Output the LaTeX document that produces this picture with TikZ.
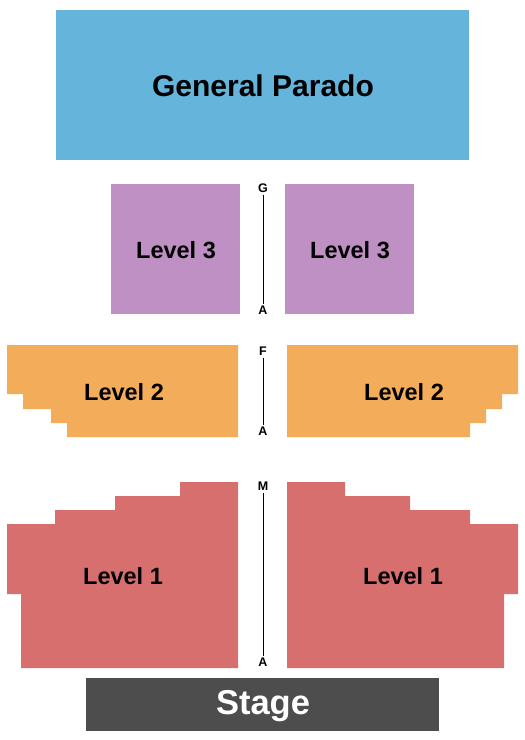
\documentclass[tikz,border=0pt]{standalone}
\usepackage{fontspec}
\setmainfont{Liberation Sans}
\definecolor{parado}{HTML}{64B4DC}
\definecolor{lvlthree}{HTML}{BF90C3}
\definecolor{lvltwo}{HTML}{F3AD5A}
\definecolor{lvlone}{HTML}{D76F6E}
\definecolor{stagec}{HTML}{4D4D4D}
\tikzset{
  seclabel/.style={font=\bfseries\fontsize{23.5}{27}\selectfont, text=black},
  rowlabel/.style={font=\bfseries\fontsize{12.5}{14}\selectfont, text=black, inner sep=2pt},
  aisle/.style={draw=black, line width=0.9pt}
}
\begin{document}
\begin{tikzpicture}[x=1pt,y=-1pt]
\useasboundingbox (0,0) rectangle (525,740);
% General Parado
\fill[parado] (56,10) rectangle (469,160);
\node[font=\bfseries\fontsize{30}{34}\selectfont] (gp) at (263,86) {General Parado};
% Level 3
\fill[lvlthree] (111,184) rectangle (240,314);
\fill[lvlthree] (285,184) rectangle (414,314);
\node[seclabel] (l3a) at (176,250) {Level 3};
\node[seclabel] (l3b) at (350,250) {Level 3};
% Level 2
\fill[lvltwo] (7,345) -- (238,345) -- (238,437) -- (67,437) -- (67,423) -- (51,423) -- (51,409) -- (23,409) -- (23,394) -- (7,394) -- cycle;
\fill[lvltwo] (287,345) -- (518,345) -- (518,394) -- (502,394) -- (502,409) -- (486,409) -- (486,423) -- (470,423) -- (470,437) -- (287,437) -- cycle;
\node[seclabel] (l2a) at (124,392) {Level 2};
\node[seclabel] (l2b) at (404,392) {Level 2};
% Level 1
\fill[lvlone] (238,482) -- (238,668) -- (21,668) -- (21,594) -- (7,594) -- (7,524) -- (55,524) -- (55,510) -- (115,510) -- (115,496) -- (180,496) -- (180,482) -- cycle;
\fill[lvlone] (287,482) -- (345,482) -- (345,496) -- (410,496) -- (410,510) -- (470,510) -- (470,524) -- (518,524) -- (518,594) -- (504,594) -- (504,668) -- (287,668) -- cycle;
\node[seclabel] (l1a) at (123,576) {Level 1};
\node[seclabel] (l1b) at (403,576) {Level 1};
% Stage
\fill[stagec] (86,678) rectangle (439,731);
\node[font=\bfseries\fontsize{34.5}{40}\selectfont, text=white] (stage) at (263,706) {Stage};
% Aisle row markers
\node[rowlabel] (g3) at (263,188) {G};
\node[rowlabel] (a3) at (263,310) {A};
\draw[aisle] (g3) -- (a3);
\node[rowlabel] (f2) at (263,351) {F};
\node[rowlabel] (a2) at (263,431) {A};
\draw[aisle] (f2) -- (a2);
\node[rowlabel] (m1) at (263,486) {M};
\node[rowlabel] (a1) at (263,662) {A};
\draw[aisle] (m1) -- (a1);
\end{tikzpicture}
\end{document}
